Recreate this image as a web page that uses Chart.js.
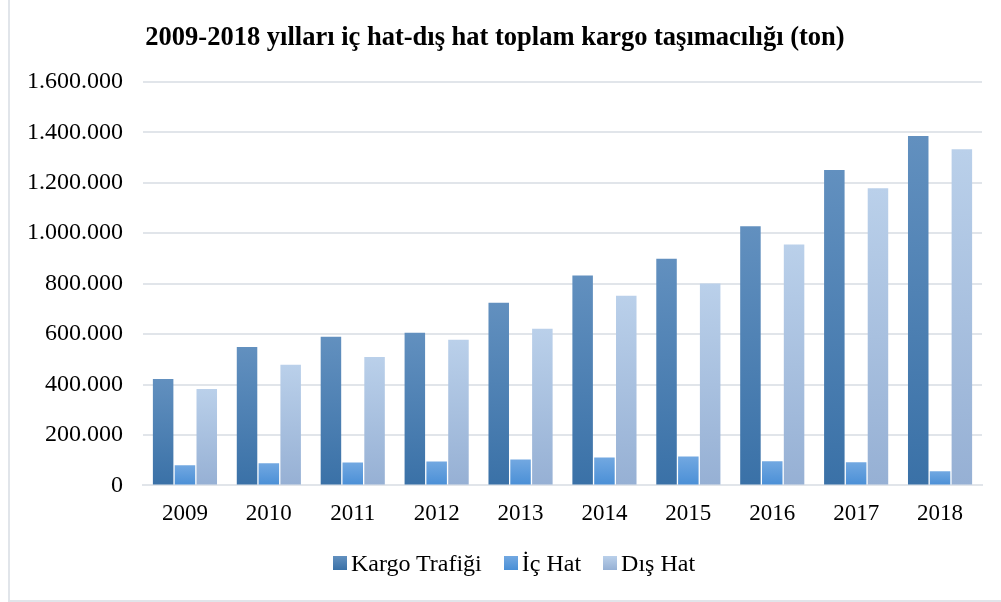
<!DOCTYPE html>
<html>
<head>
<meta charset="utf-8">
<script src="https://cdn.jsdelivr.net/npm/chart.js@4.4.0/dist/chart.umd.min.js"></script>
<style>
  html, body { margin: 0; padding: 0; background: #fff; }
  #wrap { position: relative; width: 1001px; height: 602px; }
  #frame { position: absolute; left: 8px; top: -2px; width: 1000px; height: 604px; border: 2px solid #e1e5ea; box-sizing: border-box; pointer-events: none; }
  #legend { position: absolute; left: 0; width: 1028px; top: 549px; display: flex; justify-content: center;
            font-family: 'Liberation Serif', 'Times New Roman', serif; font-size: 24px; color: #000; line-height: 28px; }
  .item { display: flex; align-items: center; margin: 0 11px; }
  .box { width: 14px; height: 14px; margin-right: 4px; }
</style>
</head>
<body>
<div id="wrap">
  <canvas id="cargoChart" width="1001" height="602"></canvas>
  <div id="legend"></div>
  <div id="frame"></div>
</div>
<script>
// values (ton)
const years = ['2009', '2010', '2011', '2012', '2013', '2014', '2015', '2016', '2017', '2018'];
const kargoTrafigi = [422000, 549000, 589000, 605000, 724000, 832000, 899000, 1027000, 1250000, 1385000];
const icHat = [80000, 88000, 91000, 95000, 103000, 111000, 115000, 96000, 92000, 56000];
const disHat = [382000, 478000, 509000, 577000, 621000, 752000, 800000, 955000, 1178000, 1333000];

const yMax = 1600000;
const yStep = 200000;

// top / bottom colours of each bar gradient
const kargoColors = ['#6290bf', '#3a71a7'];
const icColors = ['#72a8e1', '#4a8fd6'];
const disColors = ['#bad0ea', '#96b0d4'];

function formatTon(v) {
    return String(v).replace(/\B(?=(\d{3})+(?!\d))/g, '.');
}

// vertical gradient over the bar itself
function barGradient(colors) {
    return function(context) {
        const chart = context.chart;
        const mid = colors[1];
        if (context.type !== 'data' || !chart.chartArea || !chart.scales.y) return mid;
        const y = chart.scales.y;
        const top = y.getPixelForValue(context.raw);
        const base = y.getPixelForValue(0);
        if (!isFinite(top) || !isFinite(base) || top === base) return mid;
        const g = chart.ctx.createLinearGradient(0, top, 0, base);
        g.addColorStop(0, colors[0]);
        g.addColorStop(1, colors[1]);
        return g;
    };
}

const serif = "'Liberation Serif', 'Times New Roman', serif";

const chart = new Chart(document.getElementById('cargoChart'), {
    type: 'bar',
    data: {
        labels: years,
        datasets: [
            {
                label: 'Kargo Trafiği',
                data: kargoTrafigi,
                backgroundColor: barGradient(kargoColors),
                borderWidth: 0
            },
            {
                label: 'İç Hat',
                data: icHat,
                backgroundColor: barGradient(icColors),
                borderWidth: 0
            },
            {
                label: 'Dış Hat',
                data: disHat,
                backgroundColor: barGradient(disColors),
                borderWidth: 0
            }
        ]
    },
    options: {
        responsive: false,
        animation: false,
        categoryPercentage: 0.78,
        barPercentage: 0.94,
        layout: {
            padding: { left: 8, right: 19, top: 0, bottom: 59 }
        },
        plugins: {
            title: {
                display: true,
                text: '2009-2018 yılları iç hat-dış hat toplam kargo taşımacılığı (ton)',
                color: '#000',
                font: { family: serif, size: 26.5, weight: 'bold' },
                padding: { top: 22, bottom: 28 }
            },
            legend: { display: false },
            tooltip: { enabled: false }
        },
        scales: {
            x: {
                grid: { display: false, drawTicks: false },
                border: { display: true, color: '#e1e5ea', width: 2 },
                ticks: {
                    color: '#000',
                    padding: 15,
                    font: { family: serif, size: 23 }
                }
            },
            y: {
                min: 0,
                max: yMax,
                afterFit: function(scale) { scale.width = 135; },
                grid: { color: '#e1e5ea', lineWidth: 2, drawTicks: false },
                border: { display: false },
                ticks: {
                    stepSize: yStep,
                    color: '#000',
                    padding: 20,
                    font: { family: serif, size: 24 },
                    callback: function(value) { return formatTon(value); }
                }
            }
        }
    }
});

// legend built from the chart's datasets
const legendColors = [kargoColors, icColors, disColors];
const legendEl = document.getElementById('legend');
chart.data.datasets.forEach((ds, i) => {
    const item = document.createElement('div');
    item.className = 'item';
    const box = document.createElement('span');
    box.className = 'box';
    box.style.background = `linear-gradient(${legendColors[i][0]}, ${legendColors[i][1]})`;
    const text = document.createElement('span');
    text.textContent = ds.label;
    item.appendChild(box);
    item.appendChild(text);
    legendEl.appendChild(item);
});
</script>
</body>
</html>
